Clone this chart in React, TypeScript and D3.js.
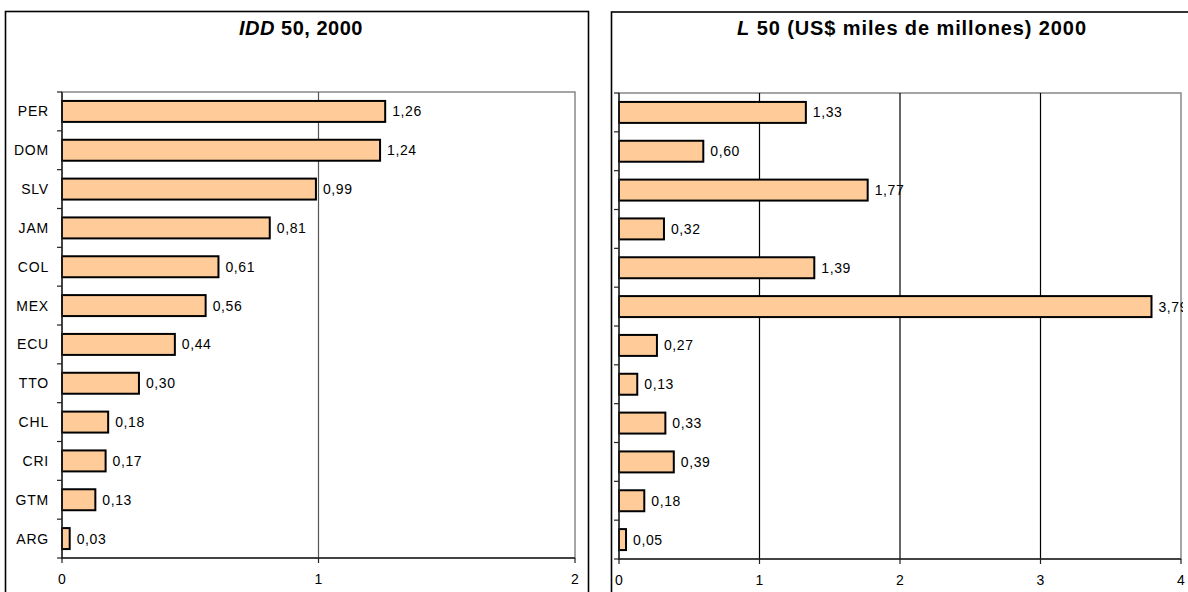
import React from "react";
import * as d3 from "d3";

const categories = ["PER", "DOM", "SLV", "JAM", "COL", "MEX", "ECU", "TTO", "CHL", "CRI", "GTM", "ARG"];
const iddValues = [1.26, 1.24, 0.99, 0.81, 0.61, 0.56, 0.44, 0.3, 0.18, 0.17, 0.13, 0.03];
const lValues = [1.33, 0.6, 1.77, 0.32, 1.39, 3.79, 0.27, 0.13, 0.33, 0.39, 0.18, 0.05];
const leftTicks = [0, 1, 2];
const rightTicks = [0, 1, 2, 3, 4];

const FONT = "'Liberation Sans', Arial, sans-serif";
const fmt = (v: number) => v.toFixed(2).replace(".", ",");

type PanelProps = {
  values: number[];
  ticks: number[];
  domainMax: number;
  x0: number;
  x1: number;
  y0: number;
  y1: number;
  showCats: boolean;
  gridColor: string;
  clipId: string;
  clipRight: number;
};

function Panel({ values, ticks, domainMax, x0, x1, y0, y1, showCats, gridColor, clipId, clipRight }: PanelProps) {
  const x = d3.scaleLinear().domain([0, domainMax]).range([x0, x1]);
  const y = d3.scaleBand<string>().domain(categories).range([y0, y1]).paddingInner(0.46).paddingOuter(0.23);
  const boundaries = d3.range(categories.length + 1).map((i) => y0 + ((y1 - y0) / categories.length) * i);
  return (
    <g>
      <defs>
        <clipPath id={clipId}>
          <rect x={0} y={0} width={clipRight} height={592} />
        </clipPath>
      </defs>
      <rect x={x0} y={y0} width={x1 - x0} height={y1 - y0} fill="none" stroke="#888" strokeWidth={1.5} />
      {ticks.slice(1, -1).map((t) => (
        <line key={t} x1={x(t)} x2={x(t)} y1={y0} y2={y1} stroke={gridColor} strokeWidth={1.2} />
      ))}
      {categories.map((c, i) => (
        <rect
          key={c}
          x={x(0)}
          y={y(c)!}
          width={x(values[i]) - x(0)}
          height={y.bandwidth()}
          fill="#FFCC99"
          stroke="#000"
          strokeWidth={2}
        />
      ))}
      <g clipPath={`url(#${clipId})`}>
        {categories.map((c, i) => (
          <text
            key={c}
            x={x(values[i]) + 7}
            y={y(c)! + y.bandwidth() / 2}
            dy="0.36em"
            fontSize={14}
            letterSpacing={0.6}
            fontFamily={FONT}
            fill="#000"
          >
            {fmt(values[i])}
          </text>
        ))}
      </g>
      <line x1={x0} x2={x0} y1={y0} y2={y1 + 1} stroke="#222" strokeWidth={1.5} />
      {boundaries.map((b, i) => (
        <line key={i} x1={x0 - 5} x2={x0} y1={b} y2={b} stroke="#222" strokeWidth={1.2} />
      ))}
      {showCats &&
        categories.map((c) => (
          <text
            key={c}
            x={x0 - 13}
            y={y(c)! + y.bandwidth() / 2}
            dy="0.36em"
            textAnchor="end"
            fontSize={14}
            letterSpacing={0.8}
            fontFamily={FONT}
            fill="#000"
          >
            {c}
          </text>
        ))}
      <line x1={x0} x2={x1} y1={y1} y2={y1} stroke="#222" strokeWidth={1.5} />
      {ticks.map((t) => (
        <g key={t}>
          <line x1={x(t)} x2={x(t)} y1={y1} y2={y1 + 5} stroke="#222" strokeWidth={1.2} />
          <text x={x(t)} y={y1 + 25.5} textAnchor="middle" fontSize={14} fontFamily={FONT} fill="#000">
            {t}
          </text>
        </g>
      ))}
    </g>
  );
}

export default function App() {
  return (
    <svg width={1188} height={592} style={{ position: "absolute", left: 0, top: 0, background: "#fff" }}>
      <rect x={0} y={0} width={1188} height={592} fill="#fff" />
      <rect x={5.5} y={11.5} width={583} height={600} fill="none" stroke="#000" strokeWidth={1.6} />
      <rect x={611.5} y={12} width={600} height={600} fill="none" stroke="#000" strokeWidth={1.6} />

      <text x={301} y={35} textAnchor="middle" fontSize={20} fontWeight="bold" letterSpacing={0.5} fontFamily={FONT}>
        <tspan fontStyle="italic">IDD</tspan>
        <tspan> 50, 2000</tspan>
      </text>
      <text x={912} y={35} textAnchor="middle" fontSize={20} fontWeight="bold" letterSpacing={0.9} fontFamily={FONT}>
        <tspan fontStyle="italic">L</tspan>
        <tspan> 50 (US$ miles de millones) 2000</tspan>
      </text>

      <Panel
        values={iddValues}
        ticks={leftTicks}
        domainMax={2}
        x0={62}
        x1={575}
        y0={92}
        y1={558}
        showCats={true}
        gridColor="#555"
        clipId="clipL"
        clipRight={590}
      />
      <Panel
        values={lValues}
        ticks={rightTicks}
        domainMax={4}
        x0={619}
        x1={1181}
        y0={93}
        y1={559}
        showCats={false}
        gridColor="#000"
        clipId="clipR"
        clipRight={1183}
      />
    </svg>
  );
}
